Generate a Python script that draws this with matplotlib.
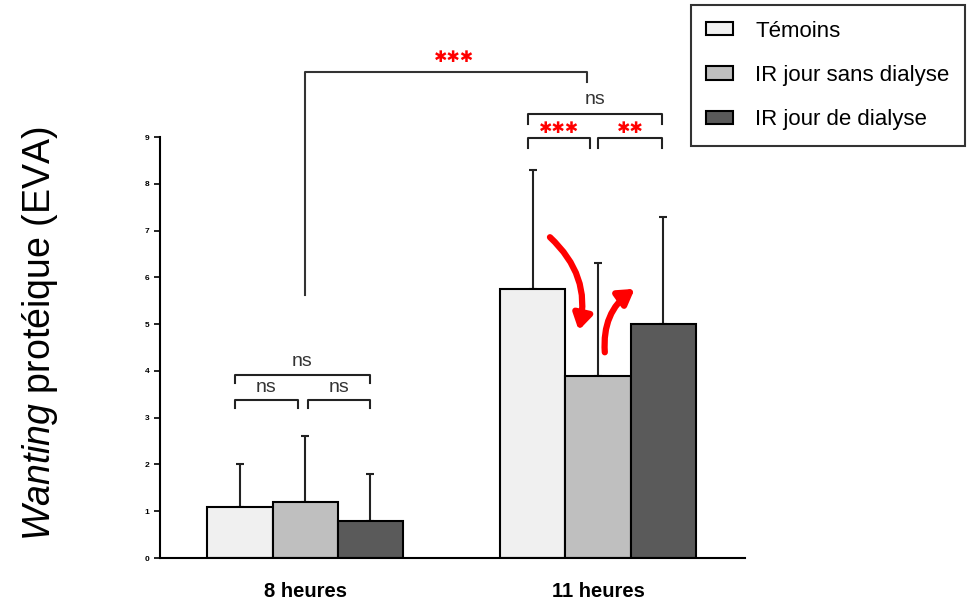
import matplotlib
matplotlib.use("Agg")
import matplotlib.pyplot as plt
import numpy as np

plt.rcParams['font.family'] = ['Liberation Sans', 'DejaVu Sans']
plt.rcParams['mathtext.fontset'] = 'custom'
plt.rcParams['mathtext.it'] = 'Liberation Sans:italic'
plt.rcParams['mathtext.rm'] = 'Liberation Sans'

groups = ['8 heures', '11 heures']
series = ['Témoins', 'IR jour sans dialyse', 'IR jour de dialyse']
means = [[1.1, 5.75],
         [1.2, 3.9],
         [0.8, 5.0]]
sd = [[0.9, 2.55],
      [1.4, 2.4],
      [1.0, 2.3]]
colors = ['#f0f0f0', '#bfbfbf', '#5a5a5a']

fig = plt.figure(figsize=(9.67, 6.10), dpi=100)
ax = fig.add_axes([0.1655, 0.0852, 0.605, 0.690])

x = np.arange(len(groups))
w = 0.222
for i, name in enumerate(series):
    pos = x + (i - 1) * w
    ax.bar(pos, means[i], w, color=colors[i], edgecolor='black', linewidth=1.5,
           label=name, zorder=2)
    ax.errorbar(pos, means[i], yerr=[np.zeros(len(groups)), sd[i]], fmt='none',
                ecolor='#222222', elinewidth=1.5, capsize=3, capthick=1.5, zorder=1)

ax.set_xlim(-0.495, 1.502)
ax.set_ylim(0, 9)
ax.set_yticks(range(10))
ax.tick_params(axis='y', labelsize=6, length=4, width=1.2, direction='out')
for lab in ax.get_yticklabels():
    lab.set_fontweight('bold')
ax.set_xticks(x)
ax.set_xticklabels(groups, fontsize=14.5, fontweight='bold')
ax.tick_params(axis='x', length=0, pad=17)
for s in ['top', 'right']:
    ax.spines[s].set_visible(False)
for s in ['left', 'bottom']:
    ax.spines[s].set_linewidth(1.5)

fig.text(40 / 967, 1 - 334 / 610, r'$\mathit{Wanting}$ protéique (EVA)',
         fontsize=27, rotation=90, ha='center', va='center')

STAR = '\u2731'


def bracket(x1, x2, y, h, txt, color='#333333', tsize=14, dy=0.2):
    ax.plot([x1, x1, x2, x2], [y - h, y, y, y - h], color='#222222', lw=1.5,
            clip_on=False)
    if color == 'red':
        ax.text((x1 + x2) / 2, y + dy, txt, ha='center', va='center', color=color,
                fontsize=tsize, family=['DejaVu Sans'])
    else:
        ax.text((x1 + x2) / 2, y + dy, txt, ha='center', va='center', color=color,
                fontsize=tsize)


# 8 heures
bracket(-0.239, 0.222, 3.91, 0.17, 'ns', dy=0.3)
bracket(-0.239, -0.024, 3.38, 0.17, 'ns', dy=0.27)
bracket(0.010, 0.222, 3.38, 0.17, 'ns', dy=0.27)
# 11 heures
bracket(0.761, 1.218, 9.49, 0.21, 'ns', dy=0.32)
bracket(0.761, 0.973, 8.98, 0.22, STAR * 3, color='red', tsize=11.5, dy=0.2)
bracket(1.000, 1.218, 8.98, 0.22, STAR * 2, color='red', tsize=11.5, dy=0.2)
# 8h vs 11h
ax.plot([0, 0, 0.962, 0.962], [5.62, 10.39, 10.39, 10.17], color='#333333',
        lw=1.5, clip_on=False)
ax.text(0.51, 10.71, STAR * 3, ha='center', va='center', color='red',
        fontsize=11.5, family=['DejaVu Sans'])

# red arrows
ax.annotate('', xy=(0.932, 4.81), xytext=(0.829, 6.90),
            arrowprops=dict(arrowstyle='-|>,head_length=0.9,head_width=0.55',
                            color='red', lw=4.5,
                            connectionstyle='arc3,rad=-0.3'))
ax.annotate('', xy=(1.133, 5.79), xytext=(1.024, 4.34),
            arrowprops=dict(arrowstyle='-|>,head_length=0.9,head_width=0.55',
                            color='red', lw=4.5,
                            connectionstyle='arc3,rad=-0.3'))

handles, labels = ax.get_legend_handles_labels()
leg = fig.legend(handles, labels, loc='upper right',
                 bbox_to_anchor=(965 / 967, 1 - 5 / 610), fontsize=16,
                 frameon=True, fancybox=False, edgecolor='black',
                 handlelength=1.2, handleheight=0.55, labelspacing=1.05,
                 borderpad=0.7, handletextpad=1.0, borderaxespad=0)
leg.get_frame().set_linewidth(1.5)

fig.savefig('out.png', dpi=100)
